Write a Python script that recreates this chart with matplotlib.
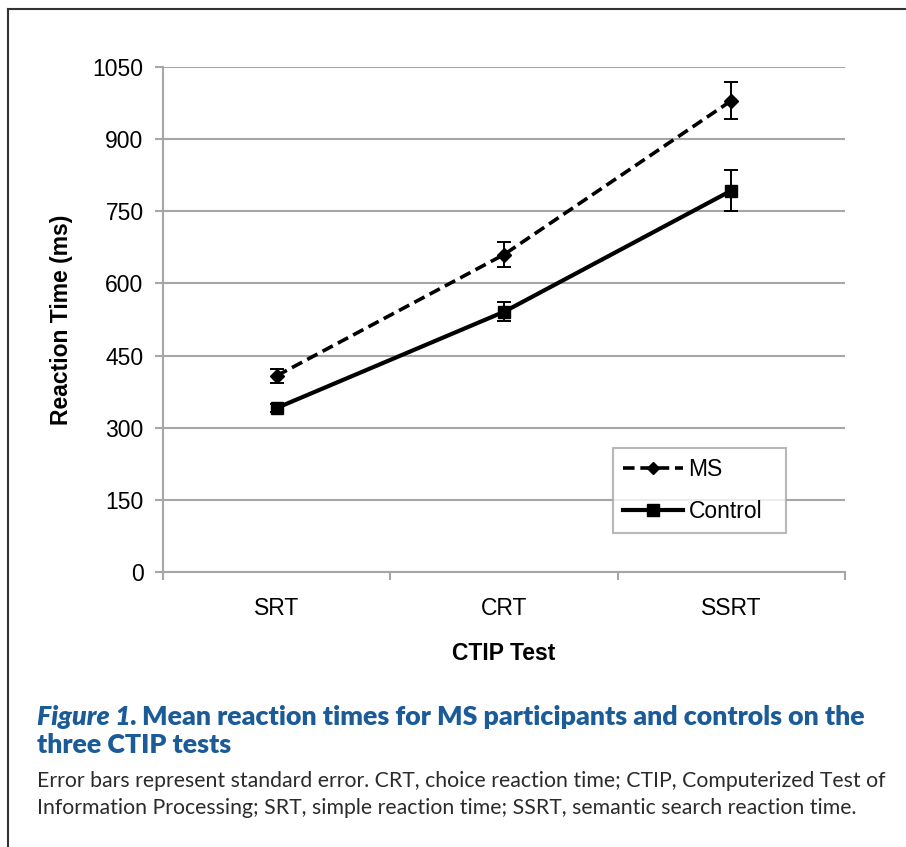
import matplotlib
matplotlib.use("Agg")
import matplotlib.pyplot as plt
from matplotlib.lines import Line2D

plt.rcParams["font.family"] = ["Liberation Sans", "DejaVu Sans"]

# ── data ─────────────────────────────────────────────────────────────────────
tests       = ["SRT", "CRT", "SSRT"]
ms_mean     = [408, 660, 980]
ms_se       = [15, 26, 38]
ctrl_mean   = [341, 541, 793]
ctrl_se     = [8, 20, 42]
yticks      = [0, 150, 300, 450, 600, 750, 900, 1050]

GRID = "#a6a6a6"
BLUE = "#1b5c98"

fig = plt.figure(figsize=(9.06, 8.47), dpi=100)
ax = fig.add_axes([163 / 906, 1 - 572 / 847, 682 / 906, 505 / 847])

x = list(range(len(tests)))
ax.errorbar(x, ms_mean, yerr=ms_se, color="black", ls=(0, (3.2, 1.6)), lw=2.6,
            marker="D", ms=7, capsize=5, elinewidth=1.4, capthick=1.4,
            label="MS", zorder=4)
ax.errorbar(x, ctrl_mean, yerr=ctrl_se, color="black", ls="-", lw=3.0,
            marker="s", ms=9, capsize=5, elinewidth=1.4, capthick=1.4,
            label="Control", zorder=4)

ax.set_xlim(-0.5, len(tests) - 0.5)
ax.set_ylim(0, 1050)
ax.set_yticks(yticks)
ax.set_yticklabels([str(v) for v in yticks], fontsize=16.5)
ax.set_xticks(x)
ax.set_xticklabels(tests, fontsize=16.5)
ax.tick_params(axis="x", length=0, pad=18)
ax.set_xticks([i - 0.5 for i in range(len(tests) + 1)], minor=True)
ax.tick_params(axis="x", which="minor", length=6, color=GRID, width=1.5)
ax.tick_params(axis="y", length=6, color=GRID, width=1.5, pad=8)
ax.yaxis.grid(True, color=GRID, lw=1.5)
ax.set_axisbelow(True)
for s in ["top", "right"]:
    ax.spines[s].set_visible(False)
for s in ["left", "bottom"]:
    ax.spines[s].set_color(GRID)
    ax.spines[s].set_linewidth(1.5)

ax.set_ylabel("Reaction Time (ms)", fontsize=16.5, fontweight="bold", labelpad=14)
ax.set_xlabel("CTIP Test", fontsize=16.5, fontweight="bold", labelpad=16)

handles = [
    Line2D([], [], color="black", ls=(0, (3.2, 1.6)), lw=2.6, marker="D", ms=6),
    Line2D([], [], color="black", ls="-", lw=3.0, marker="s", ms=8),
]
leg = ax.legend(handles, ["MS", "Control"], loc="lower left",
                bbox_to_anchor=((613 - 163) / 682, (572 - 533) / 505, 173 / 682, 86 / 505),
                mode="expand", borderaxespad=0, fontsize=16.5, frameon=True,
                fancybox=False, handlelength=2.6, handletextpad=0.25,
                borderpad=0.45, labelspacing=0.8)
leg.get_frame().set_edgecolor(GRID)
leg.get_frame().set_linewidth(1.5)

# ── outer frame (top and left edges) ─────────────────────────────────────────
fig.add_artist(Line2D([8 / 906, 1], [1 - 9 / 847, 1 - 9 / 847], color="#333333", lw=1.5,
                      transform=fig.transFigure))
fig.add_artist(Line2D([8 / 906, 8 / 906], [0, 1 - 9 / 847], color="#333333", lw=1.5,
                      transform=fig.transFigure))

# ── caption ──────────────────────────────────────────────────────────────────
cap_font = ["Lato", "DejaVu Sans"]
x0 = 37 / 906
t1 = fig.text(x0, 1 - 725 / 847, "Figure 1.", fontsize=19.3, fontweight="heavy",
              style="italic", color=BLUE, family=cap_font, va="baseline")
r = fig.canvas.get_renderer()
w = t1.get_window_extent(renderer=r).width / fig.bbox.width
fig.text(x0 + w + 5 / 906, 1 - 725 / 847,
         "Mean reaction times for MS participants and controls on the",
         fontsize=19.3, fontweight="heavy", color=BLUE, family=cap_font, va="baseline")
fig.text(x0, 1 - 753 / 847, "three CTIP tests", fontsize=19.3, fontweight="heavy",
         color=BLUE, family=cap_font, va="baseline")
fig.text(x0, 1 - 787 / 847,
         "Error bars represent standard error. CRT, choice reaction time; CTIP, "
         "Computerized Test of", fontsize=15.3, color="#2b2b2b", family=cap_font,
         va="baseline")
fig.text(x0, 1 - 814 / 847,
         "Information Processing; SRT, simple reaction time; SSRT, semantic search "
         "reaction time.", fontsize=15.3, color="#2b2b2b", family=cap_font, va="baseline")

fig.savefig("out.png", dpi=100)
